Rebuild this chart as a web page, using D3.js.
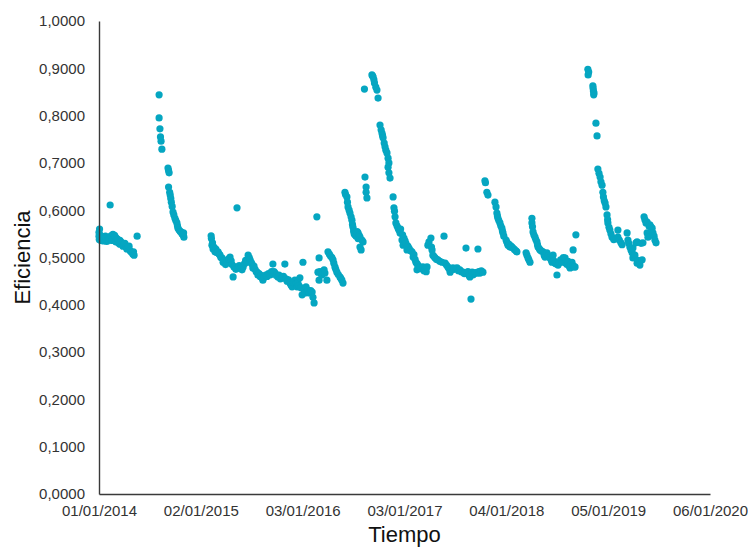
<!DOCTYPE html>
<html>
<head>
<meta charset="utf-8">
<script src="https://cdn.jsdelivr.net/npm/d3@7"></script>
<style>
  body { margin: 0; background: #fff; }
  svg { font-family: "Liberation Sans", Arial, sans-serif; }
</style>
</head>
<body>
<div id="chart"></div>
<script>
// eficiencia por fecha, tramo a tramo
var tramo1 = [
  ["2014-01-01",0.545],["2014-01-01",0.553],["2014-01-02",0.538],["2014-01-03",0.560],["2014-01-04",0.548],
  ["2014-01-06",0.543],["2014-01-08",0.536],["2014-01-10",0.541],["2014-01-12",0.538],["2014-01-15",0.544],
  ["2014-01-17",0.535],["2014-01-19",0.540],["2014-01-22",0.537],["2014-01-24",0.545],["2014-01-26",0.542],
  ["2014-01-29",0.534],["2014-02-02",0.537],["2014-02-05",0.540],["2014-02-10",0.611],["2014-02-10",0.540],
  ["2014-02-13",0.546],["2014-02-17",0.536],["2014-02-17",0.545],["2014-02-20",0.549],["2014-02-24",0.540],
  ["2014-02-26",0.547],["2014-03-01",0.543],["2014-03-03",0.533],["2014-03-06",0.540],["2014-03-10",0.538],
  ["2014-03-13",0.530],["2014-03-17",0.536],["2014-03-17",0.528],["2014-03-21",0.533],["2014-03-25",0.530],
  ["2014-03-28",0.524],["2014-04-01",0.527],["2014-04-04",0.530],["2014-04-08",0.522],["2014-04-11",0.518],
  ["2014-04-15",0.520],["2014-04-19",0.524],["2014-04-22",0.515],["2014-04-26",0.512],["2014-04-30",0.510],
  ["2014-05-03",0.507],["2014-05-05",0.512],["2014-05-07",0.505],["2014-05-18",0.545]
];
var tramo2 = [
  ["2014-08-05",0.844],["2014-08-05",0.795],["2014-08-08",0.772],["2014-08-10",0.755],["2014-08-12",0.746],
  ["2014-08-15",0.729],["2014-09-06",0.689],["2014-09-08",0.684],["2014-09-10",0.679],["2014-09-08",0.649],
  ["2014-09-12",0.638],["2014-09-14",0.632],["2014-09-16",0.625],["2014-09-18",0.617],["2014-09-21",0.608],
  ["2014-09-24",0.596],["2014-09-27",0.590],["2014-10-01",0.583],["2014-10-04",0.578],["2014-10-08",0.573],
  ["2014-10-10",0.567],["2014-10-12",0.562],["2014-10-16",0.558],["2014-10-20",0.555],["2014-10-23",0.554],
  ["2014-10-26",0.550],["2014-10-30",0.548],["2014-11-02",0.543],["2014-11-01",0.552]
];
var tramo3 = [
  ["2015-02-08",0.546],["2015-02-09",0.540],["2015-02-11",0.526],["2015-02-13",0.531],["2015-02-15",0.518],
  ["2015-02-18",0.522],["2015-02-22",0.512],["2015-02-25",0.518],["2015-03-01",0.510],["2015-03-05",0.512],
  ["2015-03-09",0.507],["2015-03-12",0.505],["2015-03-15",0.500],["2015-03-19",0.499],["2015-03-23",0.490],
  ["2015-03-27",0.494],["2015-04-01",0.485],["2015-04-06",0.491],["2015-04-12",0.497],["2015-04-17",0.501],
  ["2015-04-21",0.493],["2015-04-24",0.485],["2015-04-28",0.459],["2015-05-01",0.480],["2015-05-05",0.480],
  ["2015-05-08",0.475],["2015-05-12",0.605],["2015-05-16",0.478],["2015-05-20",0.483],["2015-05-25",0.478],
  ["2015-05-30",0.474],["2015-06-03",0.480],["2015-06-08",0.487],["2015-06-12",0.494],["2015-06-17",0.490],
  ["2015-06-21",0.505],["2015-06-25",0.500],["2015-06-28",0.495],["2015-07-02",0.490],["2015-07-05",0.486],
  ["2015-07-08",0.478],["2015-07-12",0.482],["2015-07-16",0.475],["2015-07-20",0.470],["2015-07-23",0.469],
  ["2015-07-26",0.463],["2015-07-30",0.466],["2015-08-03",0.460],["2015-08-06",0.462],["2015-08-10",0.457],
  ["2015-08-13",0.452],["2015-08-18",0.458],["2015-08-23",0.463],["2015-08-28",0.460],["2015-09-02",0.466],
  ["2015-09-08",0.463],["2015-09-13",0.470],["2015-09-18",0.486],["2015-09-22",0.470],["2015-09-26",0.467],
  ["2015-09-30",0.462],["2015-10-06",0.459],["2015-10-10",0.463],["2015-10-15",0.455],["2015-10-21",0.457],
  ["2015-10-26",0.460],["2015-10-31",0.486],["2015-11-04",0.455],["2015-11-08",0.450],["2015-11-13",0.453],
  ["2015-11-18",0.446],["2015-11-22",0.442],["2015-11-26",0.438],["2015-12-01",0.447],["2015-12-06",0.452],
  ["2015-12-10",0.445],["2015-12-14",0.438],["2015-12-17",0.446],["2015-12-21",0.440],["2015-12-24",0.457],
  ["2015-12-28",0.436],["2016-01-01",0.421],["2016-01-04",0.490],["2016-01-08",0.432],["2016-01-11",0.425],
  ["2016-01-15",0.438],["2016-01-19",0.428],["2016-01-22",0.431],["2016-01-27",0.425],["2016-02-01",0.430],
  ["2016-02-06",0.427],["2016-02-09",0.416],["2016-02-13",0.404],["2016-02-23",0.586],["2016-02-27",0.469],
  ["2016-03-02",0.499],["2016-03-02",0.452],["2016-03-05",0.470],["2016-03-09",0.466],["2016-03-12",0.463],
  ["2016-03-16",0.470],["2016-03-20",0.474],["2016-03-23",0.467],["2016-03-30",0.452],["2016-04-03",0.512],
  ["2016-04-08",0.507],["2016-04-12",0.503],["2016-04-17",0.500],["2016-04-21",0.495],["2016-04-24",0.488],
  ["2016-04-28",0.480],["2016-05-01",0.475],["2016-05-05",0.469],["2016-05-10",0.464],["2016-05-16",0.459],
  ["2016-05-19",0.456],["2016-05-23",0.452],["2016-05-27",0.446]
];
var tramo4 = [
  ["2016-06-03",0.638],["2016-06-05",0.633],["2016-06-10",0.628],["2016-06-12",0.617],["2016-06-14",0.607],
  ["2016-06-18",0.600],["2016-06-21",0.594],["2016-06-25",0.586],["2016-06-28",0.579],["2016-06-30",0.570],
  ["2016-07-02",0.564],["2016-07-04",0.556],["2016-07-06",0.550],["2016-07-09",0.548],["2016-07-13",0.545],
  ["2016-07-17",0.555],["2016-07-20",0.552],["2016-07-20",0.540],["2016-07-24",0.547],["2016-07-27",0.543],
  ["2016-07-27",0.522],["2016-07-31",0.516],["2016-08-03",0.537],["2016-08-07",0.533],["2016-08-12",0.856],
  ["2016-08-14",0.670],["2016-08-18",0.649],["2016-08-18",0.638],["2016-08-21",0.626],["2016-09-08",0.886],
  ["2016-09-10",0.884],["2016-09-12",0.882],["2016-09-15",0.876],["2016-09-17",0.869],["2016-09-22",0.860],
  ["2016-09-26",0.854],["2016-09-30",0.837],["2016-10-07",0.780],["2016-10-11",0.770],["2016-10-14",0.763],
  ["2016-10-16",0.758],["2016-10-18",0.753],["2016-10-22",0.742],["2016-10-25",0.734],["2016-10-28",0.727],
  ["2016-11-01",0.721],["2016-11-05",0.710],["2016-11-08",0.700],["2016-11-05",0.691],["2016-11-08",0.679],
  ["2016-11-12",0.668],["2016-11-23",0.628],["2016-11-26",0.605],["2016-11-28",0.598],["2016-11-30",0.586],
  ["2016-12-03",0.573],["2016-12-07",0.567],["2016-12-11",0.562],["2016-12-14",0.558],["2016-12-18",0.552],
  ["2016-12-20",0.560],["2016-12-25",0.537],["2016-12-27",0.548],["2016-12-29",0.526],["2017-01-01",0.541],
  ["2017-01-05",0.535],["2017-01-08",0.530],["2017-01-12",0.516],["2017-01-15",0.524],["2017-01-19",0.520],
  ["2017-01-24",0.515],["2017-01-30",0.512],["2017-02-03",0.501],["2017-02-06",0.506],["2017-02-10",0.496],
  ["2017-02-13",0.490],["2017-02-17",0.474],["2017-02-17",0.487],["2017-02-20",0.484],["2017-02-24",0.481],
  ["2017-02-28",0.478],["2017-03-04",0.476],["2017-03-10",0.480],["2017-03-14",0.472],["2017-03-18",0.474],
  ["2017-03-22",0.470],["2017-03-25",0.480],["2017-03-28",0.526],["2017-04-01",0.533],["2017-04-08",0.541],
  ["2017-04-10",0.522],["2017-04-12",0.516],["2017-04-15",0.505],["2017-04-19",0.502],["2017-04-23",0.499],
  ["2017-04-28",0.496],["2017-05-03",0.495],["2017-05-10",0.492],["2017-05-18",0.490],["2017-05-25",0.545],
  ["2017-05-29",0.488],["2017-06-03",0.484],["2017-06-08",0.480],["2017-06-12",0.476],["2017-06-16",0.469],
  ["2017-06-21",0.474],["2017-06-26",0.478],["2017-07-01",0.475],["2017-07-06",0.477],["2017-07-11",0.478],
  ["2017-07-16",0.472],["2017-07-21",0.474],["2017-07-26",0.470],["2017-08-01",0.469],["2017-08-06",0.466],
  ["2017-08-12",0.520],["2017-08-16",0.467],["2017-08-19",0.470],["2017-08-23",0.462],["2017-08-26",0.459],
  ["2017-08-30",0.412],["2017-09-03",0.469],["2017-09-06",0.463],["2017-09-10",0.466],["2017-09-15",0.468],
  ["2017-09-21",0.467],["2017-09-24",0.518],["2017-09-27",0.470],["2017-10-01",0.467],["2017-10-06",0.472],
  ["2017-10-12",0.469]
];
var tramo5 = [
  ["2017-10-19",0.662],["2017-10-21",0.658],["2017-10-26",0.638],["2017-10-30",0.632],["2017-11-24",0.617],
  ["2017-11-28",0.607],["2017-12-01",0.594],["2017-12-03",0.588],["2017-12-05",0.583],["2017-12-08",0.578],
  ["2017-12-12",0.573],["2017-12-15",0.567],["2017-12-19",0.562],["2017-12-21",0.556],["2017-12-23",0.552],
  ["2017-12-26",0.545],["2018-01-03",0.537],["2018-01-06",0.533],["2018-01-08",0.530],["2018-01-10",0.526],
  ["2018-01-14",0.528],["2018-01-17",0.522],["2018-01-21",0.524],["2018-01-24",0.522],["2018-01-28",0.520],
  ["2018-02-02",0.517],["2018-02-08",0.514],["2018-02-11",0.512]
];
var tramo6 = [
  ["2018-03-16",0.510],["2018-03-19",0.505],["2018-03-23",0.499],["2018-03-26",0.495],["2018-03-30",0.490],
  ["2018-04-06",0.583],["2018-04-06",0.573],["2018-04-08",0.565],["2018-04-10",0.554],["2018-04-13",0.548],
  ["2018-04-17",0.543],["2018-04-20",0.538],["2018-04-24",0.533],["2018-04-26",0.527],["2018-04-28",0.522],
  ["2018-05-02",0.519],["2018-05-05",0.516],["2018-05-10",0.514],["2018-05-16",0.512],["2018-05-20",0.505],
  ["2018-05-23",0.501],["2018-05-30",0.510],["2018-06-04",0.504],["2018-06-10",0.499],["2018-06-14",0.495],
  ["2018-06-17",0.490],["2018-06-21",0.505],["2018-06-24",0.493],["2018-06-28",0.488],["2018-07-02",0.486],
  ["2018-07-05",0.463],["2018-07-09",0.484],["2018-07-14",0.490],["2018-07-18",0.495],["2018-07-23",0.490],
  ["2018-07-28",0.500],["2018-08-03",0.499],["2018-08-06",0.488],["2018-08-10",0.485],["2018-08-14",0.492],
  ["2018-08-18",0.482],["2018-08-21",0.478],["2018-08-25",0.485],["2018-08-28",0.490],["2018-09-01",0.516],
  ["2018-09-01",0.483],["2018-09-05",0.480],["2018-09-08",0.480],["2018-09-11",0.548]
];
var tramo7 = [
  ["2018-10-24",0.898],["2018-10-25",0.886],["2018-10-27",0.892],["2018-11-11",0.863],["2018-11-12",0.858],
  ["2018-11-13",0.852],["2018-11-14",0.844],["2018-11-15",0.848],["2018-11-22",0.784],["2018-11-26",0.757],
  ["2018-11-29",0.687],["2018-12-03",0.678],["2018-12-07",0.670],["2018-12-10",0.660],["2018-12-14",0.653],
  ["2018-12-17",0.638],["2018-12-19",0.628],["2018-12-22",0.620],["2018-12-25",0.615],["2018-12-28",0.607],
  ["2019-01-01",0.590],["2019-01-03",0.580],["2019-01-04",0.573],["2019-01-08",0.564],["2019-01-11",0.558],
  ["2019-01-15",0.550],["2019-01-19",0.543],["2019-01-25",0.538],["2019-02-09",0.558],["2019-02-09",0.543],
  ["2019-02-14",0.537],["2019-02-20",0.531],["2019-02-24",0.527],["2019-03-14",0.552],["2019-03-17",0.537],
  ["2019-03-20",0.530],["2019-03-24",0.522],["2019-03-28",0.516],["2019-04-01",0.510],["2019-04-04",0.499],
  ["2019-04-04",0.520],["2019-04-08",0.505],["2019-04-11",0.505],["2019-04-15",0.531],["2019-04-19",0.488],
  ["2019-04-19",0.533],["2019-04-22",0.494],["2019-04-29",0.484],["2019-05-03",0.530],["2019-05-07",0.495],
  ["2019-05-10",0.531],["2019-05-14",0.586],["2019-05-17",0.580],["2019-05-21",0.573],["2019-05-25",0.575],
  ["2019-05-25",0.552],["2019-05-28",0.543],["2019-06-01",0.566],["2019-06-04",0.569],["2019-06-08",0.565],
  ["2019-06-12",0.562],["2019-06-15",0.552],["2019-06-19",0.545],["2019-06-22",0.537],["2019-06-26",0.531]
];

var xTicks = ["2014-01-01","2015-01-02","2016-01-03","2017-01-03","2018-01-04","2019-01-05","2020-01-06"];
var yTicks = [0, 0.1, 0.2, 0.3, 0.4, 0.5, 0.6, 0.7, 0.8, 0.9, 1.0];

var width = 748, height = 548;
var margin = { top: 21, right: 38, bottom: 54, left: 99 };
var parse = d3.timeParse("%Y-%m-%d");

var data = [].concat(tramo1, tramo2, tramo3, tramo4, tramo5, tramo6, tramo7)
  .map(function (d) { return { fecha: parse(d[0]), valor: d[1] }; });

var svg = d3.select("#chart").append("svg")
  .attr("width", width)
  .attr("height", height);

var x = d3.scaleTime()
  .domain([parse(xTicks[0]), parse(xTicks[xTicks.length - 1])])
  .range([margin.left, width - margin.right]);

var y = d3.scaleLinear()
  .domain([0, 1])
  .range([height - margin.bottom, margin.top]);

var es = d3.formatLocale({ decimal: ",", thousands: ".", grouping: [3], currency: ["", " €"] });

// puntos
svg.append("g")
  .selectAll("circle")
  .data(data)
  .join("circle")
  .attr("cx", function (d) { return x(d.fecha); })
  .attr("cy", function (d) { return y(d.valor); })
  .attr("r", 3.6)
  .attr("fill", "#05a6c1");

// ejes
svg.append("g")
  .attr("transform", "translate(0," + (height - margin.bottom) + ")")
  .call(d3.axisBottom(x)
    .tickValues(xTicks.map(parse))
    .tickSize(0)
    .tickPadding(11)
    .tickFormat(d3.timeFormat("%d/%m/%Y")));

svg.append("g")
  .attr("transform", "translate(" + margin.left + ",0)")
  .call(d3.axisLeft(y)
    .tickValues(yTicks)
    .tickSize(0)
    .tickPadding(14)
    .tickFormat(es.format(".4f")));

svg.selectAll(".domain").attr("stroke", "#3a3a3a").attr("stroke-width", 1.4);
svg.selectAll(".tick text")
  .attr("font-size", "15px")
  .attr("fill", "#333")
  .attr("font-family", "Liberation Sans, Arial, sans-serif");

// titulos
svg.append("text")
  .attr("x", (margin.left + width - margin.right) / 2)
  .attr("y", 542)
  .attr("text-anchor", "middle")
  .attr("font-size", "22px")
  .attr("fill", "#111")
  .text("Tiempo");

svg.append("text")
  .attr("transform", "translate(30," + ((margin.top + height - margin.bottom) / 2) + ") rotate(-90)")
  .attr("text-anchor", "middle")
  .attr("font-size", "22px")
  .attr("fill", "#111")
  .text("Eficiencia");
</script>
</body>
</html>
